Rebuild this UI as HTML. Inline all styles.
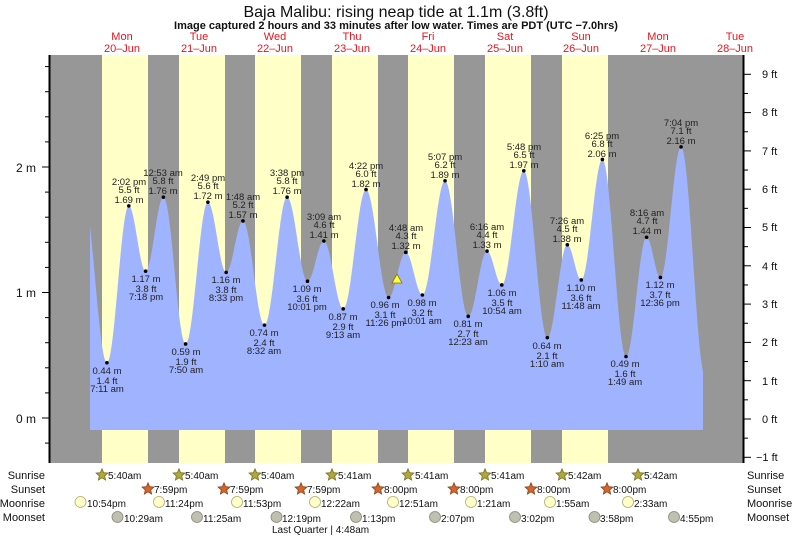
<!DOCTYPE html>
<html><head><meta charset="utf-8"><style>
html,body{margin:0;padding:0;background:#fff;}
svg{display:block;font-family:"Liberation Sans",sans-serif;}
</style></head><body>
<svg id="s" width="793" height="537" viewBox="0 0 793 537" xmlns="http://www.w3.org/2000/svg">
<text x="396" y="17" font-size="16" text-anchor="middle" fill="#111">Baja Malibu: rising  neap tide at 1.1m (3.8ft)</text>
<text x="396" y="29" font-size="11" font-weight="bold" text-anchor="middle" fill="#111">Image captured 2 hours and 33 minutes after low water. Times are PDT (UTC −7.0hrs)</text>
<g font-size="11" fill="#e8141c" text-anchor="middle">
<text x="122" y="40">Mon</text><text x="122" y="52">20–Jun</text>
<text x="199" y="40">Tue</text><text x="199" y="52">21–Jun</text>
<text x="275" y="40">Wed</text><text x="275" y="52">22–Jun</text>
<text x="352" y="40">Thu</text><text x="352" y="52">23–Jun</text>
<text x="428" y="40">Fri</text><text x="428" y="52">24–Jun</text>
<text x="505" y="40">Sat</text><text x="505" y="52">25–Jun</text>
<text x="581" y="40">Sun</text><text x="581" y="52">26–Jun</text>
<text x="658" y="40">Mon</text><text x="658" y="52">27–Jun</text>
<text x="735" y="40">Tue</text><text x="735" y="52">28–Jun</text>
</g>
<rect x="50" y="55" width="693" height="408" fill="#979797"/>
<g fill="#ffffc8">
<rect x="102" y="55" width="46" height="408"/>
<rect x="179" y="55" width="46" height="408"/>
<rect x="255" y="55" width="46" height="408"/>
<rect x="332" y="55" width="46" height="408"/>
<rect x="408" y="55" width="46" height="408"/>
<rect x="485" y="55" width="46" height="408"/>
<rect x="562" y="55" width="46" height="408"/>
</g>
<path id="tide" fill="#a0b3ff" d=""/>
<g id="dots" fill="#000"></g>
<polygon points="397,274 392,283 402,283" fill="#ffff40" stroke="#887700" stroke-width="0.8"/>
<line x1="49.5" y1="55" x2="49.5" y2="463" stroke="#000" stroke-width="2"/>
<line x1="743.5" y1="55" x2="743.5" y2="463" stroke="#000" stroke-width="2"/>
<g id="ticks" stroke="#000" stroke-width="1"></g>
<g font-size="12" fill="#111" text-anchor="end">
<text x="36" y="172">2 m</text><text x="36" y="297">1 m</text><text x="36" y="423">0 m</text>
</g>
<g font-size="11" fill="#111">
<text x="762" y="78">9 ft</text><text x="762" y="116">8 ft</text><text x="762" y="155">7 ft</text>
<text x="762" y="193">6 ft</text><text x="762" y="231">5 ft</text><text x="762" y="270">4 ft</text>
<text x="762" y="308">3 ft</text><text x="762" y="346">2 ft</text><text x="762" y="385">1 ft</text>
<text x="762" y="423">0 ft</text><text x="756" y="461">−1 ft</text>
</g>
<g font-size="9.5" fill="#222" text-anchor="middle">
<!-- lows -->
<text x="107" y="374">0.44 m</text><text x="107" y="384">1.4 ft</text><text x="107" y="392">7:11 am</text>
<text x="186" y="355">0.59 m</text><text x="186" y="365">1.9 ft</text><text x="186" y="373">7:50 am</text>
<text x="264" y="336">0.74 m</text><text x="264" y="346">2.4 ft</text><text x="264" y="354">8:32 am</text>
<text x="343" y="320">0.87 m</text><text x="343" y="330">2.9 ft</text><text x="343" y="338">9:13 am</text>
<text x="468" y="327">0.81 m</text><text x="468" y="337">2.7 ft</text><text x="468" y="345">12:23 am</text>
<text x="547" y="349">0.64 m</text><text x="547" y="359">2.1 ft</text><text x="547" y="367">1:10 am</text>
<text x="625" y="367">0.49 m</text><text x="625" y="377">1.6 ft</text><text x="625" y="385">1:49 am</text>
<text x="146" y="282">1.17 m</text><text x="146" y="292">3.8 ft</text><text x="146" y="300">7:18 pm</text>
<text x="226" y="283">1.16 m</text><text x="226" y="293">3.8 ft</text><text x="226" y="301">8:33 pm</text>
<text x="307" y="292">1.09 m</text><text x="307" y="302">3.6 ft</text><text x="307" y="310">10:01 pm</text>
<text x="385" y="308">0.96 m</text><text x="385" y="318">3.1 ft</text><text x="385" y="326">11:26 pm</text>
<text x="422" y="306">0.98 m</text><text x="422" y="316">3.2 ft</text><text x="422" y="324">10:01 am</text>
<text x="502" y="296">1.06 m</text><text x="502" y="306">3.5 ft</text><text x="502" y="314">10:54 am</text>
<text x="581" y="291">1.10 m</text><text x="581" y="301">3.6 ft</text><text x="581" y="309">11:48 am</text>
<text x="660" y="288">1.12 m</text><text x="660" y="298">3.7 ft</text><text x="660" y="306">12:36 pm</text>
<!-- highs -->
<text x="129" y="185">2:02 pm</text><text x="129" y="193">5.5 ft</text><text x="129" y="203">1.69 m</text>
<text x="163" y="176">12:53 am</text><text x="163" y="184">5.8 ft</text><text x="163" y="194">1.76 m</text>
<text x="208" y="181">2:49 pm</text><text x="208" y="189">5.6 ft</text><text x="208" y="199">1.72 m</text>
<text x="243" y="200">1:48 am</text><text x="243" y="208">5.2 ft</text><text x="243" y="218">1.57 m</text>
<text x="287" y="176">3:38 pm</text><text x="287" y="184">5.8 ft</text><text x="287" y="194">1.76 m</text>
<text x="324" y="220">3:09 am</text><text x="324" y="228">4.6 ft</text><text x="324" y="238">1.41 m</text>
<text x="366" y="169">4:22 pm</text><text x="366" y="177">6.0 ft</text><text x="366" y="187">1.82 m</text>
<text x="406" y="231">4:48 am</text><text x="406" y="239">4.3 ft</text><text x="406" y="249">1.32 m</text>
<text x="445" y="160">5:07 pm</text><text x="445" y="168">6.2 ft</text><text x="445" y="178">1.89 m</text>
<text x="487" y="230">6:16 am</text><text x="487" y="238">4.4 ft</text><text x="487" y="248">1.33 m</text>
<text x="524" y="150">5:48 pm</text><text x="524" y="158">6.5 ft</text><text x="524" y="168">1.97 m</text>
<text x="567" y="224">7:26 am</text><text x="567" y="232">4.5 ft</text><text x="567" y="242">1.38 m</text>
<text x="602" y="139">6:25 pm</text><text x="602" y="147">6.8 ft</text><text x="602" y="157">2.06 m</text>
<text x="647" y="216">8:16 am</text><text x="647" y="224">4.7 ft</text><text x="647" y="234">1.44 m</text>
<text x="681" y="126">7:04 pm</text><text x="681" y="134">7.1 ft</text><text x="681" y="144">2.16 m</text>
</g>
<g font-size="11" fill="#111">
<text x="45" y="479" text-anchor="end">Sunrise</text><text x="45" y="493" text-anchor="end">Sunset</text>
<text x="45" y="507" text-anchor="end">Moonrise</text><text x="45" y="521" text-anchor="end">Moonset</text>
<text x="747" y="479">Sunrise</text><text x="747" y="493">Sunset</text>
<text x="747" y="507">Moonrise</text><text x="747" y="521">Moonset</text>
</g>
<g id="icons"></g>
<g font-size="10" fill="#111">
<text x="108" y="479">5:40am</text><text x="185" y="479">5:40am</text><text x="261" y="479">5:40am</text><text x="338" y="479">5:41am</text>
<text x="415" y="479">5:41am</text><text x="491" y="479">5:41am</text><text x="568" y="479">5:42am</text><text x="644" y="479">5:42am</text>
<text x="154" y="493">7:59pm</text><text x="230" y="493">7:59pm</text><text x="307" y="493">7:59pm</text><text x="384" y="493">8:00pm</text>
<text x="460" y="493">8:00pm</text><text x="537" y="493">8:00pm</text><text x="613" y="493">8:00pm</text>
<text x="87" y="507">10:54pm</text><text x="165" y="507">11:24pm</text><text x="243" y="507">11:53pm</text><text x="321" y="507">12:22am</text>
<text x="399" y="507">12:51am</text><text x="477" y="507">1:21am</text><text x="556" y="507">1:55am</text><text x="634" y="507">2:33am</text>
<text x="124" y="522">10:29am</text><text x="203" y="522">11:25am</text><text x="282" y="522">12:19pm</text><text x="362" y="522">1:13pm</text>
<text x="441" y="522">2:07pm</text><text x="521" y="522">3:02pm</text><text x="600" y="522">3:58pm</text><text x="680" y="522">4:55pm</text>
<text x="272" y="533">Last Quarter | 4:48am</text>
</g>
</svg>
<script>
(function(){
var NS="http://www.w3.org/2000/svg";
function X(d,h,m){return 84+76.6*(d+(h+m/60)/24);}
function Y(v){return 418-125.5*v;}
var ex=[[-1,23,50,1.76],[0,7,11,0.44],[0,14,2,1.69],[0,19,18,1.17],[1,0,53,1.76],[1,7,50,0.59],[1,14,49,1.72],[1,20,33,1.16],
[2,1,48,1.57],[2,8,32,0.74],[2,15,38,1.76],[2,22,1,1.09],[3,3,9,1.41],[3,9,13,0.87],[3,16,22,1.82],[3,23,26,0.96],
[4,4,48,1.32],[4,10,1,0.98],[4,17,7,1.89],[5,0,23,0.81],[5,6,16,1.33],[5,10,54,1.06],[5,17,48,1.97],
[6,1,10,0.64],[6,7,26,1.38],[6,11,48,1.10],[6,18,25,2.06],[7,1,49,0.49],[7,8,16,1.44],[7,12,36,1.12],[7,19,4,2.16],[8,2,40,0.33]];
var P=ex.map(function(e){return [X(e[0],e[1],e[2]),e[3]];});
function val(x){for(var i=0;i<P.length-1;i++){if(x>=P[i][0]&&x<=P[i+1][0]){var f=(x-P[i][0])/(P[i+1][0]-P[i][0]);return P[i][1]+(P[i+1][1]-P[i][1])*(1-Math.cos(Math.PI*f))/2;}}return 0;}
var d="M90,430";for(var x=90;x<=703;x+=0.5){d+=" L"+x.toFixed(1)+","+Y(val(x)).toFixed(1);}d+=" L703,430 Z";
document.getElementById("tide").setAttribute("d",d);
var dots=document.getElementById("dots");
for(var i=1;i<P.length-1;i++){var c=document.createElementNS(NS,"circle");c.setAttribute("cx",P[i][0]);c.setAttribute("cy",Y(P[i][1]));c.setAttribute("r",1.8);dots.appendChild(c);}
var t=document.getElementById("ticks");
function ln(a,b,c,e){var l=document.createElementNS(NS,"line");l.setAttribute("x1",a);l.setAttribute("y1",b);l.setAttribute("x2",c);l.setAttribute("y2",e);t.appendChild(l);}
for(var v=0;v<=2.9;v+=0.2){var y=Y(v);if(y<56)break;var maj=Math.abs(v-Math.round(v))<0.01;ln(maj?42:45,y,49,y);}
ln(45,Y(-0.2),49,Y(-0.2));
for(var f=-1;f<=9.5;f+=0.5){var y=419-38.3*f;if(y<56||y>462)continue;var maj=Math.abs(f-Math.round(f))<0.01;ln(744,y,maj?751:748,y);}
var ic=document.getElementById("icons");
function star(cx,cy,fill,stroke){var p="";for(var k=0;k<10;k++){var r=k%2?2.8:6.2;var a=-Math.PI/2+k*Math.PI/5;p+=(cx+r*Math.cos(a)).toFixed(1)+","+(cy+r*Math.sin(a)).toFixed(1)+" ";}
var s=document.createElementNS(NS,"polygon");s.setAttribute("points",p);s.setAttribute("fill",fill);s.setAttribute("stroke",stroke);s.setAttribute("stroke-width","0.8");ic.appendChild(s);}
function circ(cx,cy,fill,stroke){var c=document.createElementNS(NS,"circle");c.setAttribute("cx",cx);c.setAttribute("cy",cy);c.setAttribute("r",5.5);c.setAttribute("fill",fill);c.setAttribute("stroke",stroke);c.setAttribute("stroke-width","0.8");ic.appendChild(c);}
[102,179,255,332,408,485,562,638].forEach(function(x){star(x,475,"#b0a838","#7a7020");});
[148,224,301,378,454,531,607].forEach(function(x){star(x,489,"#d8652a","#8a4018");});
[80.5,159,237,315,393,471,550,628].forEach(function(x){circ(x,502,"#ffffc8","#b0a870");});
[117.5,197,276.5,356,435,515,594.5,674].forEach(function(x){circ(x,517,"#c0c0b0","#888878");});
})();
</script>
</body></html>
